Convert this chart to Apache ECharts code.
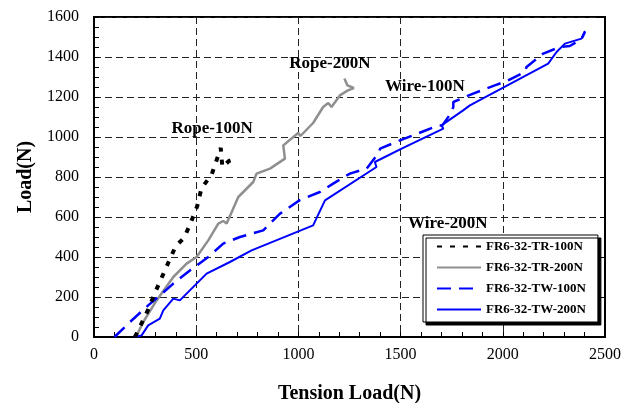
<!DOCTYPE html>
<html>
<head>
<meta charset="utf-8">
<title>Tension Load vs Load</title>
<script src="https://cdn.jsdelivr.net/npm/echarts@6/dist/echarts.min.js"></script>
<style>
  html, body { margin: 0; padding: 0; background: #fff; }
  #main { width: 634px; height: 403px; }
</style>
</head>
<body>
<div id="main"></div>
<script>
// 数据 (Tension Load, Load)
var rope100X = [200, 212, 262, 300, 365, 400, 440, 469, 505, 526, 575, 620, 628, 660, 690];
var rope100Y = [0, 25, 130, 225, 375, 455, 495, 560, 655, 745, 810, 945, 850, 880, 890];

var rope200X = [205, 241, 306, 388, 453, 502, 559, 608, 632, 649, 706, 779, 795, 861, 934, 926, 999, 1010, 1072, 1121, 1146, 1162, 1203, 1240, 1271, 1240, 1225];
var rope200Y = [0, 75, 183, 300, 367, 400, 483, 567, 580, 567, 700, 775, 817, 842, 892, 958, 1020, 1005, 1070, 1150, 1170, 1150, 1208, 1232, 1245, 1258, 1292];

var wire100X = [100, 176, 265, 314, 388, 469, 559, 632, 714, 828, 869, 910, 1005, 1105, 1170, 1252, 1334, 1390, 1400, 1497, 1603, 1684, 1704, 1740, 1758, 1758, 1855, 1961, 2026, 2108, 2116, 2198, 2279, 2328, 2385, 2402];
var wire100Y = [0, 75, 158, 200, 267, 333, 400, 467, 500, 533, 575, 617, 683, 725, 767, 817, 842, 917, 942, 983, 1025, 1058, 1058, 1110, 1150, 1175, 1217, 1258, 1283, 1325, 1350, 1417, 1450, 1455, 1490, 1525];

var wire200X = [200, 233, 265, 322, 339, 388, 420, 502, 551, 665, 771, 1072, 1130, 1382, 1374, 1505, 1709, 1700, 1806, 1839, 2222, 2263, 2304, 2385, 2402];
var wire200Y = [0, 8, 58, 92, 133, 192, 183, 267, 317, 375, 433, 558, 683, 850, 875, 942, 1042, 1058, 1133, 1158, 1367, 1425, 1467, 1492, 1530];

var seriesNames = ['FR6-32-TR-100N', 'FR6-32-TR-200N', 'FR6-32-TW-100N', 'FR6-32-TW-200N'];
var xTicks = [0, 500, 1000, 1500, 2000, 2500];
var yTicks = [0, 200, 400, 600, 800, 1000, 1200, 1400, 1600];

// 曲线旁边的文字标注
var noteText = ['Rope-100N', 'Rope-200N', 'Wire-100N', 'Wire-200N'];
var noteAt = [[578, 1043], [1154, 1368], [1619, 1253], [1731, 568]];

function pairs(xs, ys) {
  var out = [];
  for (var i = 0; i < xs.length; i++) out.push([xs[i], ys[i]]);
  return out;
}

var serif = 'Liberation Serif, Times New Roman, serif';

function note(i) {
  return {
    symbol: 'rect',
    symbolSize: 0,
    silent: true,
    label: {
      show: true,
      position: 'inside',
      formatter: noteText[i],
      fontFamily: serif,
      fontWeight: 'bold',
      fontSize: 17,
      color: '#000'
    },
    data: [{ coord: noteAt[i] }]
  };
}

var myChart = echarts.init(document.getElementById('main'));

var option = {
  backgroundColor: '#fff',
  animation: false,
  grid: {
    left: 94, right: 29, top: 17, bottom: 66,
    outerBoundsMode: 'none',
    containLabel: false,
    show: true,
    borderColor: '#000',
    borderWidth: 2,
    backgroundColor: 'transparent'
  },
  legend: {
    orient: 'vertical',
    left: 423,
    top: 235,
    padding: [5, 12, 6, 13],
    itemWidth: 44,
    itemHeight: 14,
    itemGap: 8,
    backgroundColor: '#fff',
    borderColor: '#000',
    borderWidth: 1,
    shadowColor: '#000',
    shadowBlur: 0,
    shadowOffsetX: 3,
    shadowOffsetY: 3,
    itemStyle: { opacity: 0 },
    data: seriesNames,
    textStyle: {
      fontFamily: serif,
      fontWeight: 'bold',
      fontSize: 13,
      color: '#000'
    }
  },
  xAxis: [{
    type: 'value',
    min: xTicks[0],
    max: xTicks[xTicks.length - 1],
    interval: 500,
    name: 'Tension Load(N)',
    nameLocation: 'middle',
    nameGap: 47,
    nameTextStyle: { fontFamily: serif, fontWeight: 'bold', fontSize: 20, color: '#000' },
    axisLine: { lineStyle: { color: '#000', width: 2 } },
    axisTick: { inside: true, length: 5, lineStyle: { color: '#000' } },
    minorTick: { show: true, splitNumber: 5, length: 5, lineStyle: { color: '#000' } },
    axisLabel: { fontFamily: serif, fontSize: 16, color: '#000', margin: 10, formatter: function (v) { return String(v); } },
    splitLine: { show: true, lineStyle: { color: '#222', type: [7, 4], width: 1 } }
  }],
  yAxis: [{
    type: 'value',
    min: yTicks[0],
    max: yTicks[yTicks.length - 1],
    interval: 200,
    name: 'Load(N)',
    nameLocation: 'middle',
    nameGap: 58,
    nameTextStyle: { fontFamily: serif, fontWeight: 'bold', fontSize: 20, color: '#000' },
    axisLine: { show: true, lineStyle: { color: '#000', width: 2 } },
    axisTick: { show: true, inside: true, length: 5, lineStyle: { color: '#000' } },
    minorTick: { show: true, splitNumber: 4, length: 5, lineStyle: { color: '#000' } },
    axisLabel: { fontFamily: serif, fontSize: 16, color: '#000', margin: 15, formatter: function (v) { return String(v); } },
    splitLine: { show: true, lineStyle: { color: '#222', type: [7, 4], width: 1 } }
  }, {
    type: 'value',
    position: 'right',
    min: yTicks[0],
    max: yTicks[yTicks.length - 1],
    interval: 200,
    axisLine: { show: true, lineStyle: { color: '#000', width: 2 } },
    axisTick: { show: true, inside: true, length: 5, lineStyle: { color: '#000' } },
    axisLabel: { show: false },
    splitLine: { show: false }
  }],
  series: [{
    name: seriesNames[0],
    type: 'line',
    showSymbol: false,
    symbol: 'none',
    data: pairs(rope100X, rope100Y),
    lineStyle: { color: '#000', width: 4, type: [5, 8] },
    itemStyle: { color: '#000' },
    markPoint: note(0),
    z: 4
  }, {
    name: seriesNames[1],
    type: 'line',
    showSymbol: false,
    symbol: 'none',
    data: pairs(rope200X, rope200Y),
    lineStyle: { color: '#8f8f8f', width: 2.5 },
    itemStyle: { color: '#8f8f8f' },
    markPoint: note(1),
    z: 3
  }, {
    name: seriesNames[2],
    type: 'line',
    showSymbol: false,
    symbol: 'none',
    data: pairs(wire100X, wire100Y),
    lineStyle: { color: '#0000ff', width: 2.5, type: [14, 8] },
    itemStyle: { color: '#0000ff' },
    markPoint: note(2),
    z: 3
  }, {
    name: seriesNames[3],
    type: 'line',
    showSymbol: false,
    symbol: 'none',
    data: pairs(wire200X, wire200Y),
    lineStyle: { color: '#0000ff', width: 2 },
    itemStyle: { color: '#0000ff' },
    markPoint: note(3),
    z: 3
  }]
};

myChart.setOption(option);
</script>
</body>
</html>
